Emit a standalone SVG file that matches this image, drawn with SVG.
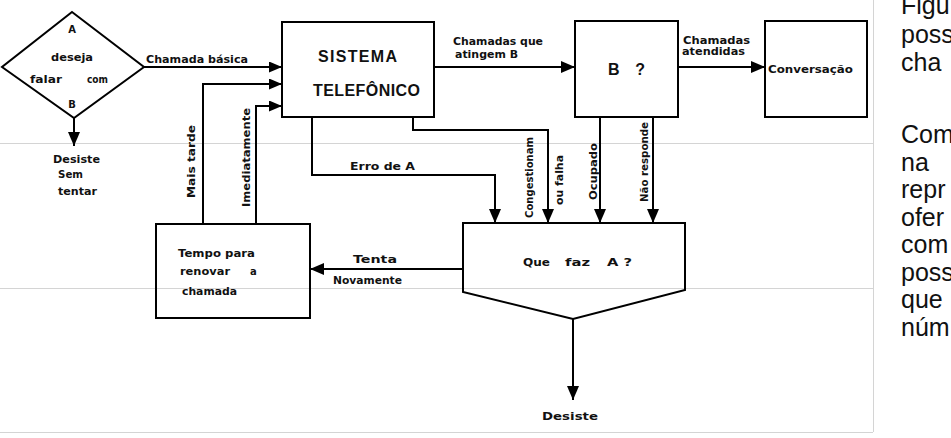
<svg xmlns="http://www.w3.org/2000/svg" width="951" height="438" viewBox="0 0 951 438">
<defs>
<marker id="ah" markerUnits="userSpaceOnUse" markerWidth="14" markerHeight="12" refX="14" refY="6" orient="auto">
<path d="M0,0 L14,6 L0,12 z" fill="#000"/>
</marker>
<marker id="ahs" markerUnits="userSpaceOnUse" markerWidth="13" markerHeight="11" refX="13" refY="5.5" orient="auto">
<path d="M0,0 L13,5.5 L0,11 z" fill="#000"/>
</marker>
<style>
.bx{fill:none;stroke:#000;stroke-width:2}
.ln{fill:none;stroke:#000;stroke-width:2}
.pg{fill:none;stroke:#d4d4d4;stroke-width:1}
.t{font-family:"DejaVu Sans","Liberation Sans",sans-serif;font-weight:bold;font-size:10px;fill:#111}
.tb{font-family:"Liberation Sans",Arial,sans-serif;font-weight:bold;font-size:16px;fill:#111}
.r{font-family:"Liberation Sans",Arial,sans-serif;font-size:25px;fill:#111}
</style>
</defs>
<rect x="0" y="0" width="951" height="438" fill="#fff"/>
<g id="page">
<line class="pg" x1="0" y1="143.5" x2="873" y2="143.5"/>
<line class="pg" x1="0" y1="288.5" x2="873" y2="288.5"/>
<line class="pg" x1="0" y1="432.5" x2="873" y2="432.5"/>
<line class="pg" x1="873.5" y1="0" x2="873.5" y2="432"/>
</g>
<g id="connectors">
<line class="ln" x1="74" y1="118" x2="74" y2="146" marker-end="url(#ah)"/>
<line class="ln" x1="144" y1="67" x2="282" y2="67" marker-end="url(#ahs)"/>
<polyline class="ln" points="203,224 203,84 282,84" marker-end="url(#ahs)"/>
<polyline class="ln" points="256,224 256,106 282,106" marker-end="url(#ahs)"/>
<line class="ln" x1="434" y1="67" x2="575" y2="67" marker-end="url(#ah)"/>
<line class="ln" x1="678" y1="67" x2="765" y2="67" marker-end="url(#ah)"/>
<polyline class="ln" points="312,117 312,175 495,175 495,223" marker-end="url(#ah)"/>
<polyline class="ln" points="413,117 413,130 548,130 548,223" marker-end="url(#ah)"/>
<line class="ln" x1="600" y1="117" x2="600" y2="223" marker-end="url(#ah)"/>
<line class="ln" x1="653" y1="117" x2="653" y2="223" marker-end="url(#ah)"/>
<line class="ln" x1="463" y1="269" x2="310" y2="269" marker-end="url(#ah)"/>
<line class="ln" x1="573" y1="319" x2="573" y2="400" marker-end="url(#ah)"/>
<text class="t" x="146" y="63" textLength="102" lengthAdjust="spacingAndGlyphs">Chamada básica</text>
<text class="t" x="453" y="45" textLength="90" lengthAdjust="spacingAndGlyphs">Chamadas que</text>
<text class="t" x="455" y="58" textLength="63" lengthAdjust="spacingAndGlyphs">atingem B</text>
<text class="t" x="683" y="44" textLength="67" lengthAdjust="spacingAndGlyphs">Chamadas</text>
<text class="t" x="682" y="55" textLength="63" lengthAdjust="spacingAndGlyphs">atendidas</text>
<text class="t" x="350" y="170" textLength="65" lengthAdjust="spacingAndGlyphs">Erro de A</text>
<text class="t" x="353" y="263" textLength="44" lengthAdjust="spacingAndGlyphs">Tenta</text>
<text class="t" x="333" y="284" textLength="69" lengthAdjust="spacingAndGlyphs">Novamente</text>
<text class="t" text-anchor="middle" transform="translate(195,161.5) rotate(-90)" textLength="73" lengthAdjust="spacingAndGlyphs">Mais tarde</text>
<text class="t" text-anchor="middle" transform="translate(250,157.5) rotate(-90)" textLength="99" lengthAdjust="spacingAndGlyphs">Imediatamente</text>
<text class="t" text-anchor="middle" transform="translate(533,177.5) rotate(-90)" textLength="81" lengthAdjust="spacingAndGlyphs">Congestionam</text>
<text class="t" text-anchor="middle" transform="translate(563,180) rotate(-90)" textLength="50" lengthAdjust="spacingAndGlyphs">ou falha</text>
<text class="t" text-anchor="middle" transform="translate(597,171.5) rotate(-90)" textLength="57" lengthAdjust="spacingAndGlyphs">Ocupado</text>
<text class="t" text-anchor="middle" transform="translate(648,162) rotate(-90)" textLength="80" lengthAdjust="spacingAndGlyphs">Não responde</text>
<text class="t" x="53" y="163" textLength="47" lengthAdjust="spacingAndGlyphs">Desiste</text>
<text class="t" x="58" y="178" textLength="25" lengthAdjust="spacingAndGlyphs">Sem</text>
<text class="t" x="58" y="195" textLength="39" lengthAdjust="spacingAndGlyphs">tentar</text>
<text class="t" x="542" y="420" textLength="56" lengthAdjust="spacingAndGlyphs">Desiste</text>
</g>
<g id="diamond">
<polygon class="bx" points="72,12 144,67 74,118 2,67"/>
<text class="t" x="72" y="33" text-anchor="middle">A</text>
<text class="t" x="51" y="61" textLength="42" lengthAdjust="spacingAndGlyphs">deseja</text>
<text class="t" x="30" y="83" textLength="32" lengthAdjust="spacingAndGlyphs">falar</text>
<text class="t" x="87" y="83" textLength="21" lengthAdjust="spacingAndGlyphs">com</text>
<text class="t" x="72" y="108" text-anchor="middle">B</text>
</g>
<g id="sistema">
<rect class="bx" x="282" y="22" width="152" height="95"/>
<text class="tb" x="318" y="62" textLength="79" lengthAdjust="spacing">SISTEMA</text>
<text class="tb" x="313" y="96" textLength="107" lengthAdjust="spacing">TELEFÔNICO</text>
</g>
<g id="b">
<rect class="bx" x="575" y="21" width="103" height="96"/>
<text class="tb" x="608" y="75" textLength="37" lengthAdjust="spacing">B ?</text>
</g>
<g id="conversacao">
<rect class="bx" x="765" y="21" width="102" height="96"/>
<text class="t" x="768" y="73" textLength="85" lengthAdjust="spacingAndGlyphs">Conversação</text>
</g>
<g id="tempo">
<rect class="bx" x="156" y="224" width="154" height="94"/>
<text class="t" x="178" y="257" textLength="77" lengthAdjust="spacingAndGlyphs">Tempo para</text>
<text class="t" x="180" y="275" textLength="50" lengthAdjust="spacingAndGlyphs">renovar</text>
<text class="t" x="250" y="275">a</text>
<text class="t" x="182" y="295" textLength="55" lengthAdjust="spacingAndGlyphs">chamada</text>
</g>
<g id="quefaz">
<polygon class="bx" points="463,223 685,223 685,290 573,319 463,292"/>
<text class="t" x="523" y="266" textLength="27" lengthAdjust="spacingAndGlyphs">Que</text>
<text class="t" x="565" y="266" textLength="25" lengthAdjust="spacingAndGlyphs">faz</text>
<text class="t" x="607" y="266" textLength="25" lengthAdjust="spacingAndGlyphs">A ?</text>
</g>
<g id="sidetext">
<text class="r" x="901" y="14">Figu</text>
<text class="r" x="901" y="43">poss</text>
<text class="r" x="901" y="71">cha</text>
<text class="r" x="901" y="143">Com</text>
<text class="r" x="901" y="171">na</text>
<text class="r" x="901" y="198">repr</text>
<text class="r" x="901" y="226">ofer</text>
<text class="r" x="901" y="253">com</text>
<text class="r" x="901" y="281">poss</text>
<text class="r" x="901" y="308">que</text>
<text class="r" x="901" y="336">núm</text>
</g>
</svg>
